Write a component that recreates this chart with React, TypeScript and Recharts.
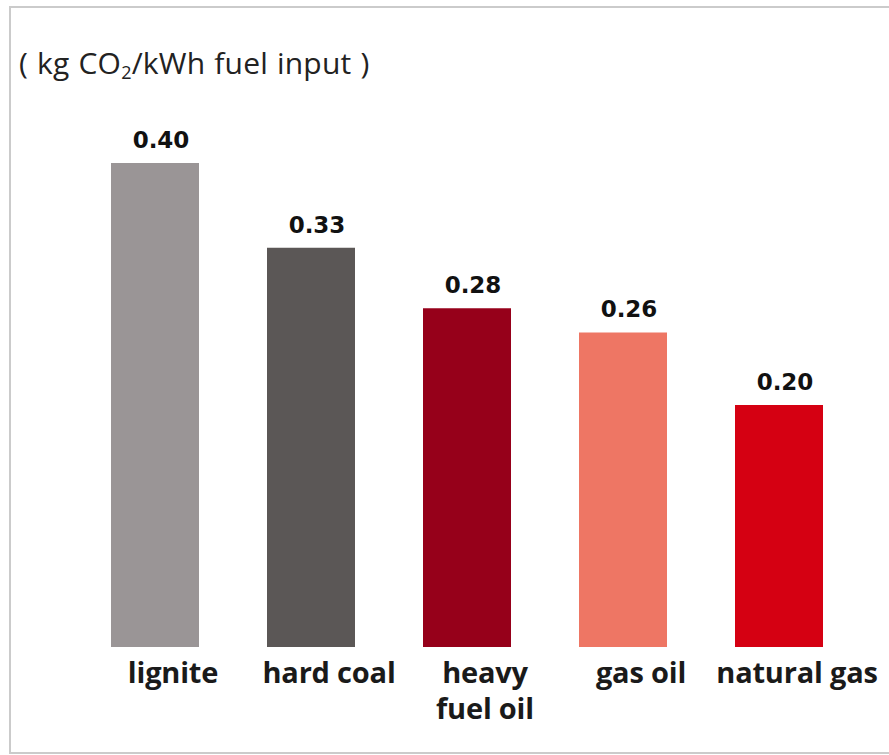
import React from "react"
import { BarChart, Bar, XAxis, YAxis, Cell, LabelList } from "recharts"

const fuels = ["lignite", "hard coal", "heavy fuel oil", "gas oil", "natural gas"]
const fuelLabelLines = [["lignite"], ["hard coal"], ["heavy", "fuel oil"], ["gas oil"], ["natural gas"]]
const co2PerKwh = [0.4, 0.33, 0.28, 0.26, 0.2]
const barColors = ["#9a9596", "#5b5756", "#96001a", "#ee7664", "#d50012"]

const data = fuels.map((name, i) => ({ name, value: co2PerKwh[i] }))

function FuelTick(props: any) {
  const { x, y, payload } = props
  const lines = fuelLabelLines[payload.index] ?? [payload.value]
  return (
    <text
      x={x + 18}
      y={y}
      textAnchor="middle"
      fill="#1a1a1a"
      fontFamily="'Open Sans', sans-serif"
      fontWeight={700}
      fontSize={29}
      letterSpacing={-0.2}
    >
      {lines.map((line: string, i: number) => (
        <tspan key={line} x={x + 18} dy={i === 0 ? 28 : 36}>
          {line}
        </tspan>
      ))}
    </text>
  )
}

export default function App() {
  return (
    <div
      style={{
        position: "absolute",
        left: 0,
        top: 0,
        width: 889,
        height: 755,
        overflow: "hidden",
        background: "#fff",
      }}
    >
      <div
        style={{
          position: "absolute",
          left: 9,
          top: 6,
          width: 900,
          height: 744,
          border: "2px solid #cbcbcb",
        }}
      />
      <div
        style={{
          position: "absolute",
          left: 19,
          top: 47,
          fontFamily: "'Open Sans', sans-serif",
          fontSize: 30,
          letterSpacing: 0.2,
          wordSpacing: 1,
          color: "#222",
          lineHeight: "32px",
          whiteSpace: "nowrap",
        }}
      >
        ( kg CO<sub style={{ fontSize: 18, verticalAlign: -5 }}>2</sub>/kWh fuel input )
      </div>
      <div style={{ position: "absolute", left: 0, top: 0 }}>
        <BarChart
          width={889}
          height={755}
          data={data}
          margin={{ top: 163, right: 32, left: 77, bottom: 0 }}
        >
          <XAxis
            dataKey="name"
            axisLine={false}
            tickLine={false}
            height={108}
            interval={0}
            tick={<FuelTick />}
          />
          <YAxis hide domain={[0, 0.4]} />
          <Bar dataKey="value" barSize={88} isAnimationActive={false}>
            {data.map((d, i) => (
              <Cell key={d.name} fill={barColors[i]} />
            ))}
            <LabelList
              dataKey="value"
              position="top"
              offset={15}
              formatter={(v: any) => Number(v).toFixed(2)}
              fill="#111"
              fontFamily="'DejaVu Sans', sans-serif"
              fontWeight={700}
              fontSize={23}
              dx={6}
            />
          </Bar>
        </BarChart>
      </div>
    </div>
  )
}
